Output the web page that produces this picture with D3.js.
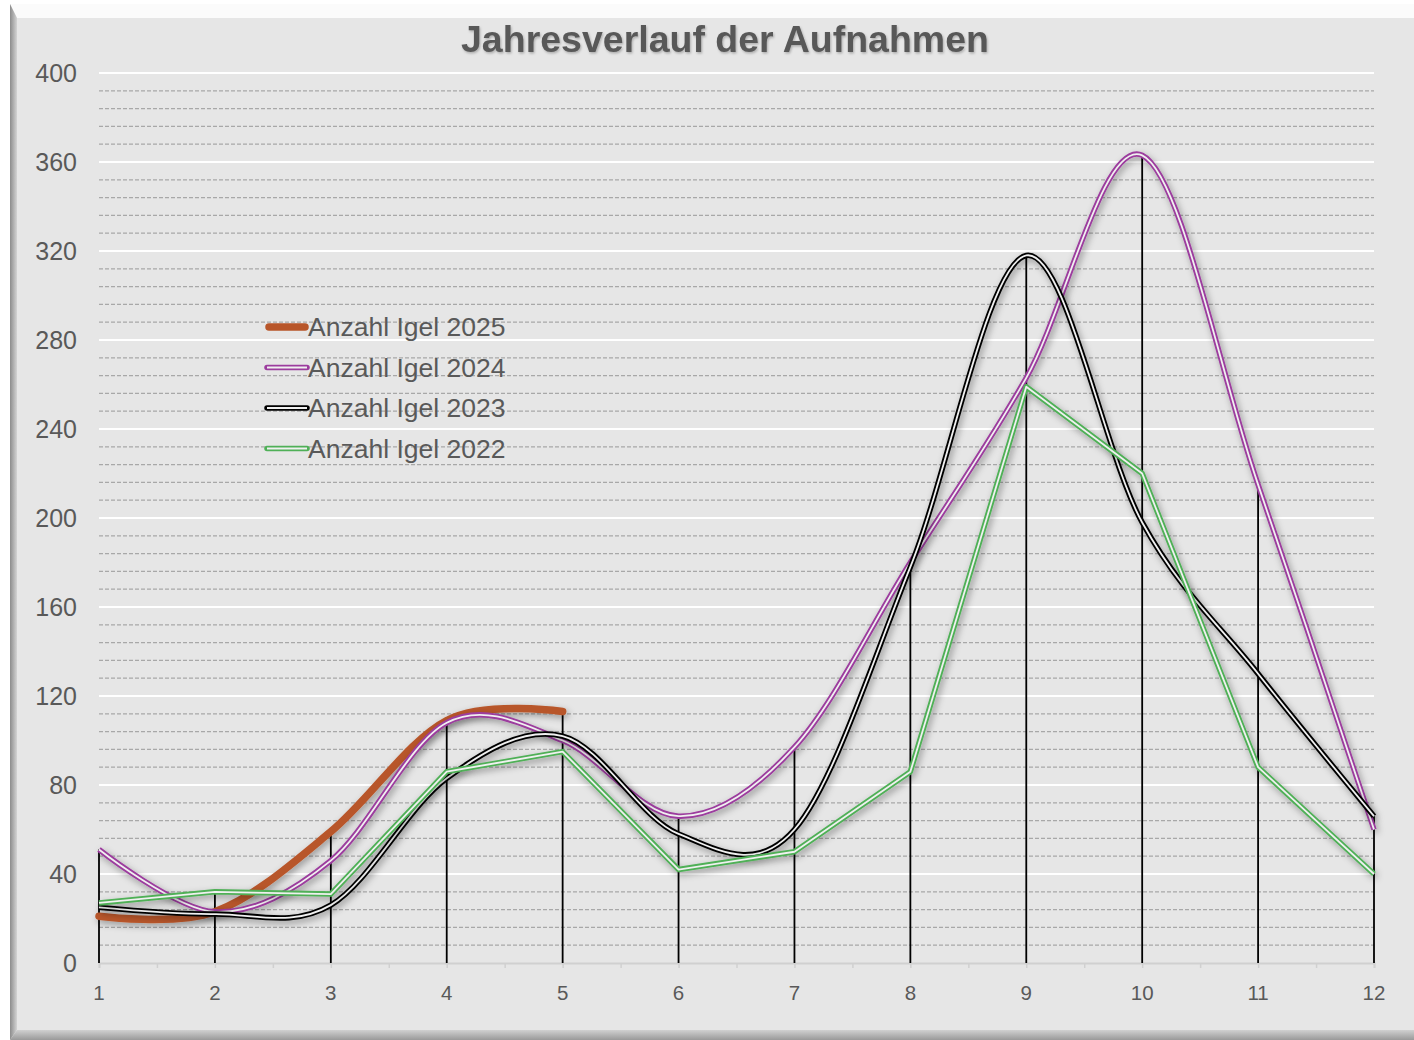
<!DOCTYPE html>
<html>
<head>
<meta charset="utf-8">
<script src="https://cdn.jsdelivr.net/npm/d3@7"></script>
<style>
  html, body { margin: 0; padding: 0; background: #ffffff; }
  svg { display: block; font-family: "Liberation Sans", Arial, sans-serif; }
</style>
</head>
<body>
<script>
// données
const mois = [1, 2, 3, 4, 5, 6, 7, 8, 9, 10, 11, 12];
const igel2025 = [21, 23, 59, 109, 113];
const igel2024 = [51, 23, 46, 108, 100, 66, 97, 180, 263, 363, 215, 60];
const igel2023 = [25, 22, 26, 83, 102, 58, 60, 178, 318, 198, 130, 66];
const igel2022 = [27, 32, 31, 86, 95, 42, 50, 86, 259, 220, 88, 40];
const yTicks = [0, 40, 80, 120, 160, 200, 240, 280, 320, 360, 400];
const legendLabels = ["Anzahl Igel 2025", "Anzahl Igel 2024", "Anzahl Igel 2023", "Anzahl Igel 2022"];

const W = 1414, H = 1040;
const svg = d3.select("body").append("svg")
  .attr("width", W).attr("height", H);

const defs = svg.append("defs");
const ombre = defs.append("filter").attr("id", "ombre")
  .attr("x", "-5%").attr("y", "-5%").attr("width", "110%").attr("height", "115%");
ombre.append("feDropShadow").attr("dx", 2).attr("dy", 3)
  .attr("stdDeviation", 3.5).attr("flood-color", "#000").attr("flood-opacity", 0.35);
const ombreTitre = defs.append("filter").attr("id", "ombreTitre");
ombreTitre.append("feDropShadow").attr("dx", 1).attr("dy", 1.5)
  .attr("stdDeviation", 1).attr("flood-color", "#000").attr("flood-opacity", 0.25);

const gradGauche = defs.append("linearGradient").attr("id", "gradGauche");
gradGauche.append("stop").attr("offset", "0%").attr("stop-color", "#8c8c8c");
gradGauche.append("stop").attr("offset", "100%").attr("stop-color", "#d4d4d4");
const gradBas = defs.append("linearGradient").attr("id", "gradBas")
  .attr("x1", 0).attr("y1", 0).attr("x2", 0).attr("y2", 1);
gradBas.append("stop").attr("offset", "0%").attr("stop-color", "#d0d0d0");
gradBas.append("stop").attr("offset", "100%").attr("stop-color", "#999");

// cadre
svg.append("rect").attr("x", 10).attr("y", 4).attr("width", W - 10).attr("height", H - 4)
  .attr("fill", "#e6e6e6");
svg.append("polygon").attr("points", `10,4 ${W},4 ${W},18 17,18`).attr("fill", "#fbfbfb");
svg.append("polygon").attr("points", `10,4 17,18 17,1030 10,${H}`).attr("fill", "url(#gradGauche)");
svg.append("polygon").attr("points", `17,1030 ${W},1030 ${W},${H} 10,${H}`).attr("fill", "url(#gradBas)");

// échelles
const x = d3.scaleLinear().domain([1, 12]).range([99, 1374]);
const y = d3.scaleLinear().domain([0, 400]).range([963, 73]);

// grille secondaire (pointillés tous les 8)
const minorTicks = d3.range(8, 400, 8).filter(v => v % 40 !== 0);
svg.append("g").selectAll("line").data(minorTicks).join("line")
  .attr("x1", x(1)).attr("x2", x(12))
  .attr("y1", d => y(d)).attr("y2", d => y(d))
  .attr("stroke", "#a8a8a8").attr("stroke-width", 1.2).attr("stroke-dasharray", "4,2");

// grille principale
svg.append("g").selectAll("line").data(yTicks.filter(v => v > 0)).join("line")
  .attr("x1", x(1)).attr("x2", x(12))
  .attr("y1", d => y(d)).attr("y2", d => y(d))
  .attr("stroke", "#ffffff").attr("stroke-width", 2);

// axe X
const axeX = d3.axisBottom(x).tickValues(d3.range(1, 12.01, 0.5)).tickSize(5).tickFormat(() => "");
const gx = svg.append("g").attr("transform", `translate(0,${y(0)})`).call(axeX);
gx.select(".domain").attr("stroke", "#d0d0d0").attr("stroke-width", 2);
gx.selectAll(".tick line").attr("stroke", "#d0d0d0").attr("stroke-width", 1.5);
svg.append("g").selectAll("text").data(mois).join("text")
  .attr("x", d => x(d)).attr("y", 1000)
  .attr("text-anchor", "middle").attr("font-size", 20.5).attr("fill", "#595959")
  .text(d => d);

// axe Y
const axeY = d3.axisLeft(y).tickValues(yTicks).tickSize(0).tickPadding(0);
const gy = svg.append("g").attr("transform", "translate(77,0)").call(axeY);
gy.select(".domain").remove();
gy.selectAll("text").attr("font-size", 25).attr("fill", "#595959")
  .attr("font-family", "Liberation Sans, Arial, sans-serif");

// lignes de projection (du maximum vers l'axe)
const series = [igel2025, igel2024, igel2023, igel2022];
const maxParMois = mois.map((m, i) => d3.max(series, s => s[i] === undefined ? -1 : s[i]));
svg.append("g").selectAll("line").data(mois).join("line")
  .attr("x1", d => x(d)).attr("x2", d => x(d))
  .attr("y1", (d, i) => y(maxParMois[i])).attr("y2", y(0))
  .attr("stroke", "#000").attr("stroke-width", 1.8);

// courbes
const lisse = d3.line().x((d, i) => x(mois[i])).y(d => y(d)).curve(d3.curveCatmullRom.alpha(0));
const droite = d3.line().x((d, i) => x(mois[i])).y(d => y(d));

function doubleTrait(data, gen, couleur) {
  const g = svg.append("g").attr("filter", "url(#ombre)");
  g.append("path").attr("d", gen(data)).attr("fill", "none")
    .attr("stroke", couleur).attr("stroke-width", 5.5).attr("stroke-linejoin", "round");
  g.append("path").attr("d", gen(data)).attr("fill", "none")
    .attr("stroke", "#f0f0f0").attr("stroke-width", 1.8).attr("stroke-linejoin", "round");
}

svg.append("path").attr("d", lisse(igel2025)).attr("fill", "none")
  .attr("stroke", "#b8562a").attr("stroke-width", 7.5).attr("stroke-linecap", "round")
  .attr("filter", "url(#ombre)");
doubleTrait(igel2024, lisse, "#9c3c9e");
doubleTrait(igel2023, lisse, "#000000");
doubleTrait(igel2022, droite, "#4fb057");

// titre
svg.append("text").attr("x", 725).attr("y", 52).attr("text-anchor", "middle")
  .attr("font-size", 37.5).attr("font-weight", "bold").attr("fill", "#595959")
  .attr("filter", "url(#ombreTitre)")
  .text("Jahresverlauf der Aufnahmen");

// légende
const couleurs = ["#b8562a", "#9c3c9e", "#000000", "#4fb057"];
const leg = svg.append("g");
legendLabels.forEach((lab, i) => {
  const yy = 327 + i * 40.5;
  if (i === 0) {
    leg.append("line").attr("x1", 269).attr("x2", 305).attr("y1", yy).attr("y2", yy)
      .attr("stroke", couleurs[i]).attr("stroke-width", 7.5).attr("stroke-linecap", "round");
  } else {
    leg.append("line").attr("x1", 267).attr("x2", 307).attr("y1", yy).attr("y2", yy)
      .attr("stroke", couleurs[i]).attr("stroke-width", 5.5).attr("stroke-linecap", "round");
    leg.append("line").attr("x1", 267).attr("x2", 307).attr("y1", yy).attr("y2", yy)
      .attr("stroke", "#f0f0f0").attr("stroke-width", 1.8);
  }
  leg.append("text").attr("x", 308).attr("y", yy + 9)
    .attr("font-size", 26.5).attr("fill", "#595959").text(lab);
});
</script>
</body>
</html>
